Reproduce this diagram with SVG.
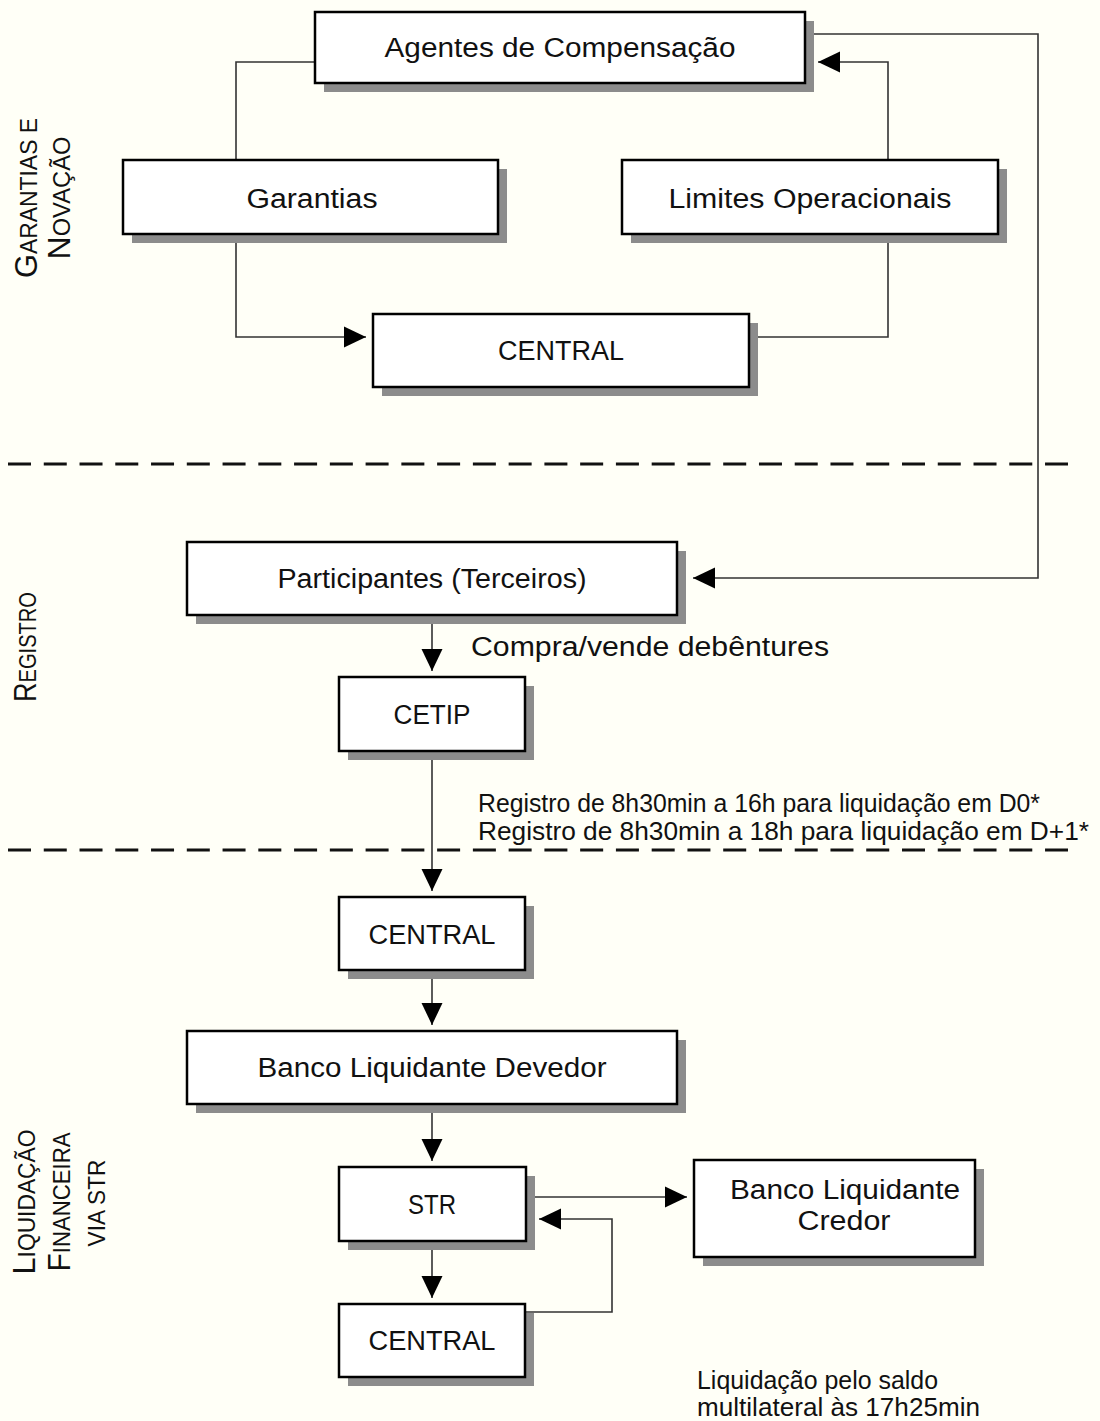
<svg xmlns="http://www.w3.org/2000/svg" width="1100" height="1421" viewBox="0 0 1100 1421">
<defs>
<style>
.bg{fill:#fffff7}
.box{fill:#ffffff;stroke:#000;stroke-width:2.5}
.sh{fill:#8c8c8c}
.t{font-family:"Liberation Sans",Arial,sans-serif;font-size:27px;fill:#111;text-anchor:middle}
.n{font-family:"Liberation Sans",Arial,sans-serif;font-size:25px;fill:#111}
.c{fill:none;stroke:#333;stroke-width:1.6}
.d{fill:none;stroke:#111;stroke-width:3;stroke-dasharray:23 12.76}
.lab{font-family:"Liberation Sans",Arial,sans-serif;fill:#111;text-anchor:middle}
.big{font-size:31px}
.sm{font-size:23px}
</style>
<marker id="ah" markerUnits="userSpaceOnUse" markerWidth="22" markerHeight="22" refX="22" refY="11" orient="auto">
<path d="M0,0.5 L22,11 L0,21.5 z" fill="#000"/>
</marker>
</defs>
<rect class="bg" x="0" y="0" width="1100" height="1421"/>

<g id="labels">
<text class="lab" transform="translate(37,198) rotate(-90)" textLength="160" lengthAdjust="spacingAndGlyphs"><tspan class="big">G</tspan><tspan class="sm">ARANTIAS E</tspan></text>
<text class="lab" transform="translate(70,198) rotate(-90)" textLength="123" lengthAdjust="spacingAndGlyphs"><tspan class="big">N</tspan><tspan class="sm">OVAÇÃO</tspan></text>
<text class="lab" transform="translate(36,647) rotate(-90)" textLength="110" lengthAdjust="spacingAndGlyphs"><tspan class="big">R</tspan><tspan class="sm">EGISTRO</tspan></text>
<text class="lab" transform="translate(35,1202) rotate(-90)" textLength="145" lengthAdjust="spacingAndGlyphs"><tspan class="big">L</tspan><tspan class="sm">IQUIDAÇÃO</tspan></text>
<text class="lab" transform="translate(70,1202) rotate(-90)" textLength="139" lengthAdjust="spacingAndGlyphs"><tspan class="big">F</tspan><tspan class="sm">INANCEIRA</tspan></text>
<text class="lab sm" transform="translate(105,1203) rotate(-90)" textLength="87" lengthAdjust="spacingAndGlyphs">VIA STR</text>
</g>

<g id="dividers">
<line class="d" x1="8" y1="464" x2="1068" y2="464"/>
<line class="d" x1="8" y1="850" x2="1068" y2="850"/>
</g>

<g id="connectors">
<path class="c" d="M315,62 H236 V160"/>
<path class="c" d="M236,234 V337 H366" marker-end="url(#ah)"/>
<path class="c" d="M888,160 V62 H818" marker-end="url(#ah)"/>
<path class="c" d="M749,337 H888 V234"/>
<path class="c" d="M805,34 H1038 V578 H693" marker-end="url(#ah)"/>
<path class="c" d="M432,615 V671" marker-end="url(#ah)"/>
<path class="c" d="M432,751 V891" marker-end="url(#ah)"/>
<path class="c" d="M432,970 V1025" marker-end="url(#ah)"/>
<path class="c" d="M432,1104 V1161" marker-end="url(#ah)"/>
<path class="c" d="M526,1197 H687" marker-end="url(#ah)"/>
<path class="c" d="M432,1241 V1298" marker-end="url(#ah)"/>
<path class="c" d="M525,1312 H612 V1219 H539" marker-end="url(#ah)"/>
</g>

<g id="agentes">
<rect class="sh" x="324" y="21" width="490" height="71"/>
<rect class="box" x="315" y="12" width="490" height="71"/>
<text class="t" x="560" y="57" textLength="351" lengthAdjust="spacingAndGlyphs">Agentes de Compensação</text>
</g>
<g id="garantias">
<rect class="sh" x="132" y="169" width="375" height="74"/>
<rect class="box" x="123" y="160" width="375" height="74"/>
<text class="t" x="312" y="208" textLength="131" lengthAdjust="spacingAndGlyphs">Garantias</text>
</g>
<g id="limites">
<rect class="sh" x="631" y="169" width="376" height="74"/>
<rect class="box" x="622" y="160" width="376" height="74"/>
<text class="t" x="810" y="208" textLength="283" lengthAdjust="spacingAndGlyphs">Limites Operacionais</text>
</g>
<g id="central1">
<rect class="sh" x="382" y="323" width="376" height="73"/>
<rect class="box" x="373" y="314" width="376" height="73"/>
<text class="t" x="561" y="360" textLength="126" lengthAdjust="spacingAndGlyphs">CENTRAL</text>
</g>
<g id="participantes">
<rect class="sh" x="196" y="551" width="490" height="73"/>
<rect class="box" x="187" y="542" width="490" height="73"/>
<text class="t" x="432" y="588" textLength="309" lengthAdjust="spacingAndGlyphs">Participantes (Terceiros)</text>
</g>
<text id="lbl-compra" class="t" x="650" y="656" textLength="358" lengthAdjust="spacingAndGlyphs">Compra/vende debêntures</text>
<g id="cetip">
<rect class="sh" x="348" y="686" width="186" height="74"/>
<rect class="box" x="339" y="677" width="186" height="74"/>
<text class="t" x="432" y="724" textLength="77" lengthAdjust="spacingAndGlyphs">CETIP</text>
</g>
<g id="notes">
<text class="n" x="478" y="812" textLength="562" lengthAdjust="spacingAndGlyphs">Registro de 8h30min a 16h para liquidação em D0*</text>
<text class="n" x="478" y="840" textLength="611" lengthAdjust="spacingAndGlyphs">Registro de 8h30min a 18h para liquidação em D+1*</text>
</g>
<g id="central2">
<rect class="sh" x="348" y="906" width="186" height="73"/>
<rect class="box" x="339" y="897" width="186" height="73"/>
<text class="t" x="432" y="944" textLength="127" lengthAdjust="spacingAndGlyphs">CENTRAL</text>
</g>
<g id="devedor">
<rect class="sh" x="196" y="1040" width="490" height="73"/>
<rect class="box" x="187" y="1031" width="490" height="73"/>
<text class="t" x="432" y="1077" textLength="349" lengthAdjust="spacingAndGlyphs">Banco Liquidante Devedor</text>
</g>
<g id="str">
<rect class="sh" x="348" y="1176" width="187" height="74"/>
<rect class="box" x="339" y="1167" width="187" height="74"/>
<text class="t" x="432" y="1214" textLength="48" lengthAdjust="spacingAndGlyphs">STR</text>
</g>
<g id="credor">
<rect class="sh" x="703" y="1169" width="281" height="97"/>
<rect class="box" x="694" y="1160" width="281" height="97"/>
<text class="t" x="845" y="1199" textLength="230" lengthAdjust="spacingAndGlyphs">Banco Liquidante</text>
<text class="t" x="844" y="1230" textLength="93" lengthAdjust="spacingAndGlyphs">Credor</text>
</g>
<g id="central3">
<rect class="sh" x="348" y="1313" width="186" height="73"/>
<rect class="box" x="339" y="1304" width="186" height="73"/>
<text class="t" x="432" y="1350" textLength="127" lengthAdjust="spacingAndGlyphs">CENTRAL</text>
</g>
<g id="note-liq">
<text class="n" x="697" y="1389" textLength="241" lengthAdjust="spacingAndGlyphs">Liquidação pelo saldo</text>
<text class="n" x="697" y="1416" textLength="283" lengthAdjust="spacingAndGlyphs">multilateral às 17h25min</text>
</g>
</svg>
